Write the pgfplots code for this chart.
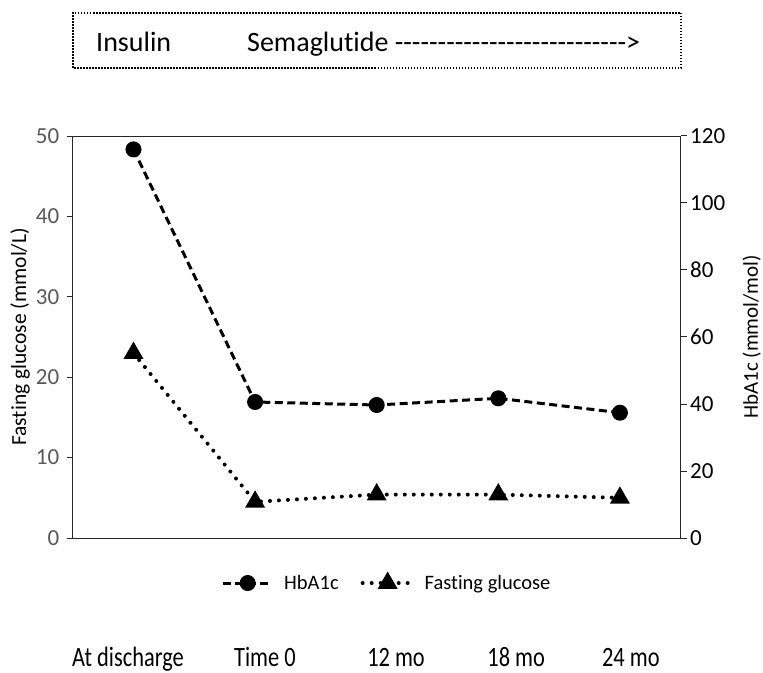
\documentclass[border=0pt]{standalone}
\usepackage{fontspec}
\setmainfont{Carlito}[Ligatures={TeX,CommonOff}]
\newfontfamily\boxfont{Carlito}[Ligatures={TeXOff,CommonOff}]
\newfontfamily\catfont{Carlito}[FakeStretch=0.8]
\usepackage{pgfplots}
\pgfplotsset{compat=1.18}
\definecolor{tickgray}{HTML}{595959}

\pgfplotsset{
  hbstyle/.style={black, line width=3pt, dash pattern=on 8pt off 4.5pt,
    mark=*, mark size=6.5pt, mark options={solid}},
  glstyle/.style={black, line width=4pt, dash pattern=on 0pt off 9pt, line cap=round,
    mark=triangle*, mark size=7.5pt, mark options={solid}},
}

\begin{document}
\begin{tikzpicture}[x=1pt,y=1pt]
% left axis: fasting glucose
\begin{axis}[
  at={(0,0)}, anchor=south west,
  scale only axis, width=608pt, height=402pt,
  xmin=-0.5, xmax=4.5, ymin=0, ymax=50,
  xtick={-0.045,1.081,2.159,3.147,4.09},
  xticklabels={At discharge,Time 0,12 mo,18 mo,24 mo},
  xtick style={draw=none},
  xticklabel style={font=\catfont\fontsize{28}{32}\selectfont, anchor=base, yshift=-122pt},
  ytick={0,10,...,50}, ytick pos=left, tick align=outside, major tick length=6pt,
  yticklabel style={font=\fontsize{23}{26}\selectfont, text=tickgray, xshift=-4pt},
  /pgf/number format/assume math mode=true,
  ylabel={Fasting glucose (mmol/L)},
  ylabel style={at={(axis description cs:-0.0867,0.5)}, anchor=center, font=\fontsize{21.5}{24}\selectfont},
  axis line style={black!85, line width=1pt},
  tick style={black!85, line width=1pt},
  clip=false,
]
\addplot[glstyle] coordinates {(0,23) (1,4.5) (2,5.4) (3,5.4) (4,5.0)};
\end{axis}
% right axis: HbA1c
\begin{axis}[
  at={(0,0)}, anchor=south west,
  scale only axis, width=608pt, height=402pt,
  xmin=-0.5, xmax=4.5, ymin=0, ymax=120,
  axis x line=none, axis y line*=right,
  ytick={0,20,...,120}, tick align=outside, major tick length=6pt,
  yticklabel style={font=\fontsize{23}{26}\selectfont, text=black},
  /pgf/number format/assume math mode=true,
  ylabel={HbA1c (mmol/mol)},
  ylabel style={at={(axis description cs:1.1165,0.5)}, anchor=center, font=\fontsize{21}{24}\selectfont},
  axis line style={black!85, line width=1pt},
  tick style={black!85, line width=1pt},
  clip=false,
  legend columns=2,
  legend style={at={(axis description cs:0.239,-0.112)}, anchor=west, draw=none, fill=none,
    font=\fontsize{20.5}{24}\selectfont, /tikz/every even column/.append style={column sep=20pt}},
  legend image code/.code={\draw[mark repeat=2,mark phase=2,#1] plot coordinates {(0pt,0pt)(25pt,0pt)(50pt,0pt)};},
]
\addplot[hbstyle] coordinates {(0,116) (1,40.6) (2,39.7) (3,41.7) (4,37.4)};
\addlegendentry{\hspace*{8pt}HbA1c}
\addlegendimage{glstyle}
\addlegendentry{\hspace*{8pt}Fasting glucose}
\end{axis}
% treatment box
\draw[black, line width=1.5pt, dash pattern=on 1.5pt off 1.5pt] (0.3,470) rectangle (608.3,525);
\node[anchor=base west, inner sep=0, font=\boxfont\fontsize{28}{32}\selectfont] at (23.3,486.3) {Insulin};
\node[anchor=base west, inner sep=0, font=\boxfont\fontsize{28}{32}\selectfont] at (174.3,486.3) {Semaglutide --------------------------->};
\pgfresetboundingbox
\useasboundingbox (-72.7,-134) rectangle (690.3,538);
\end{tikzpicture}
\end{document}
